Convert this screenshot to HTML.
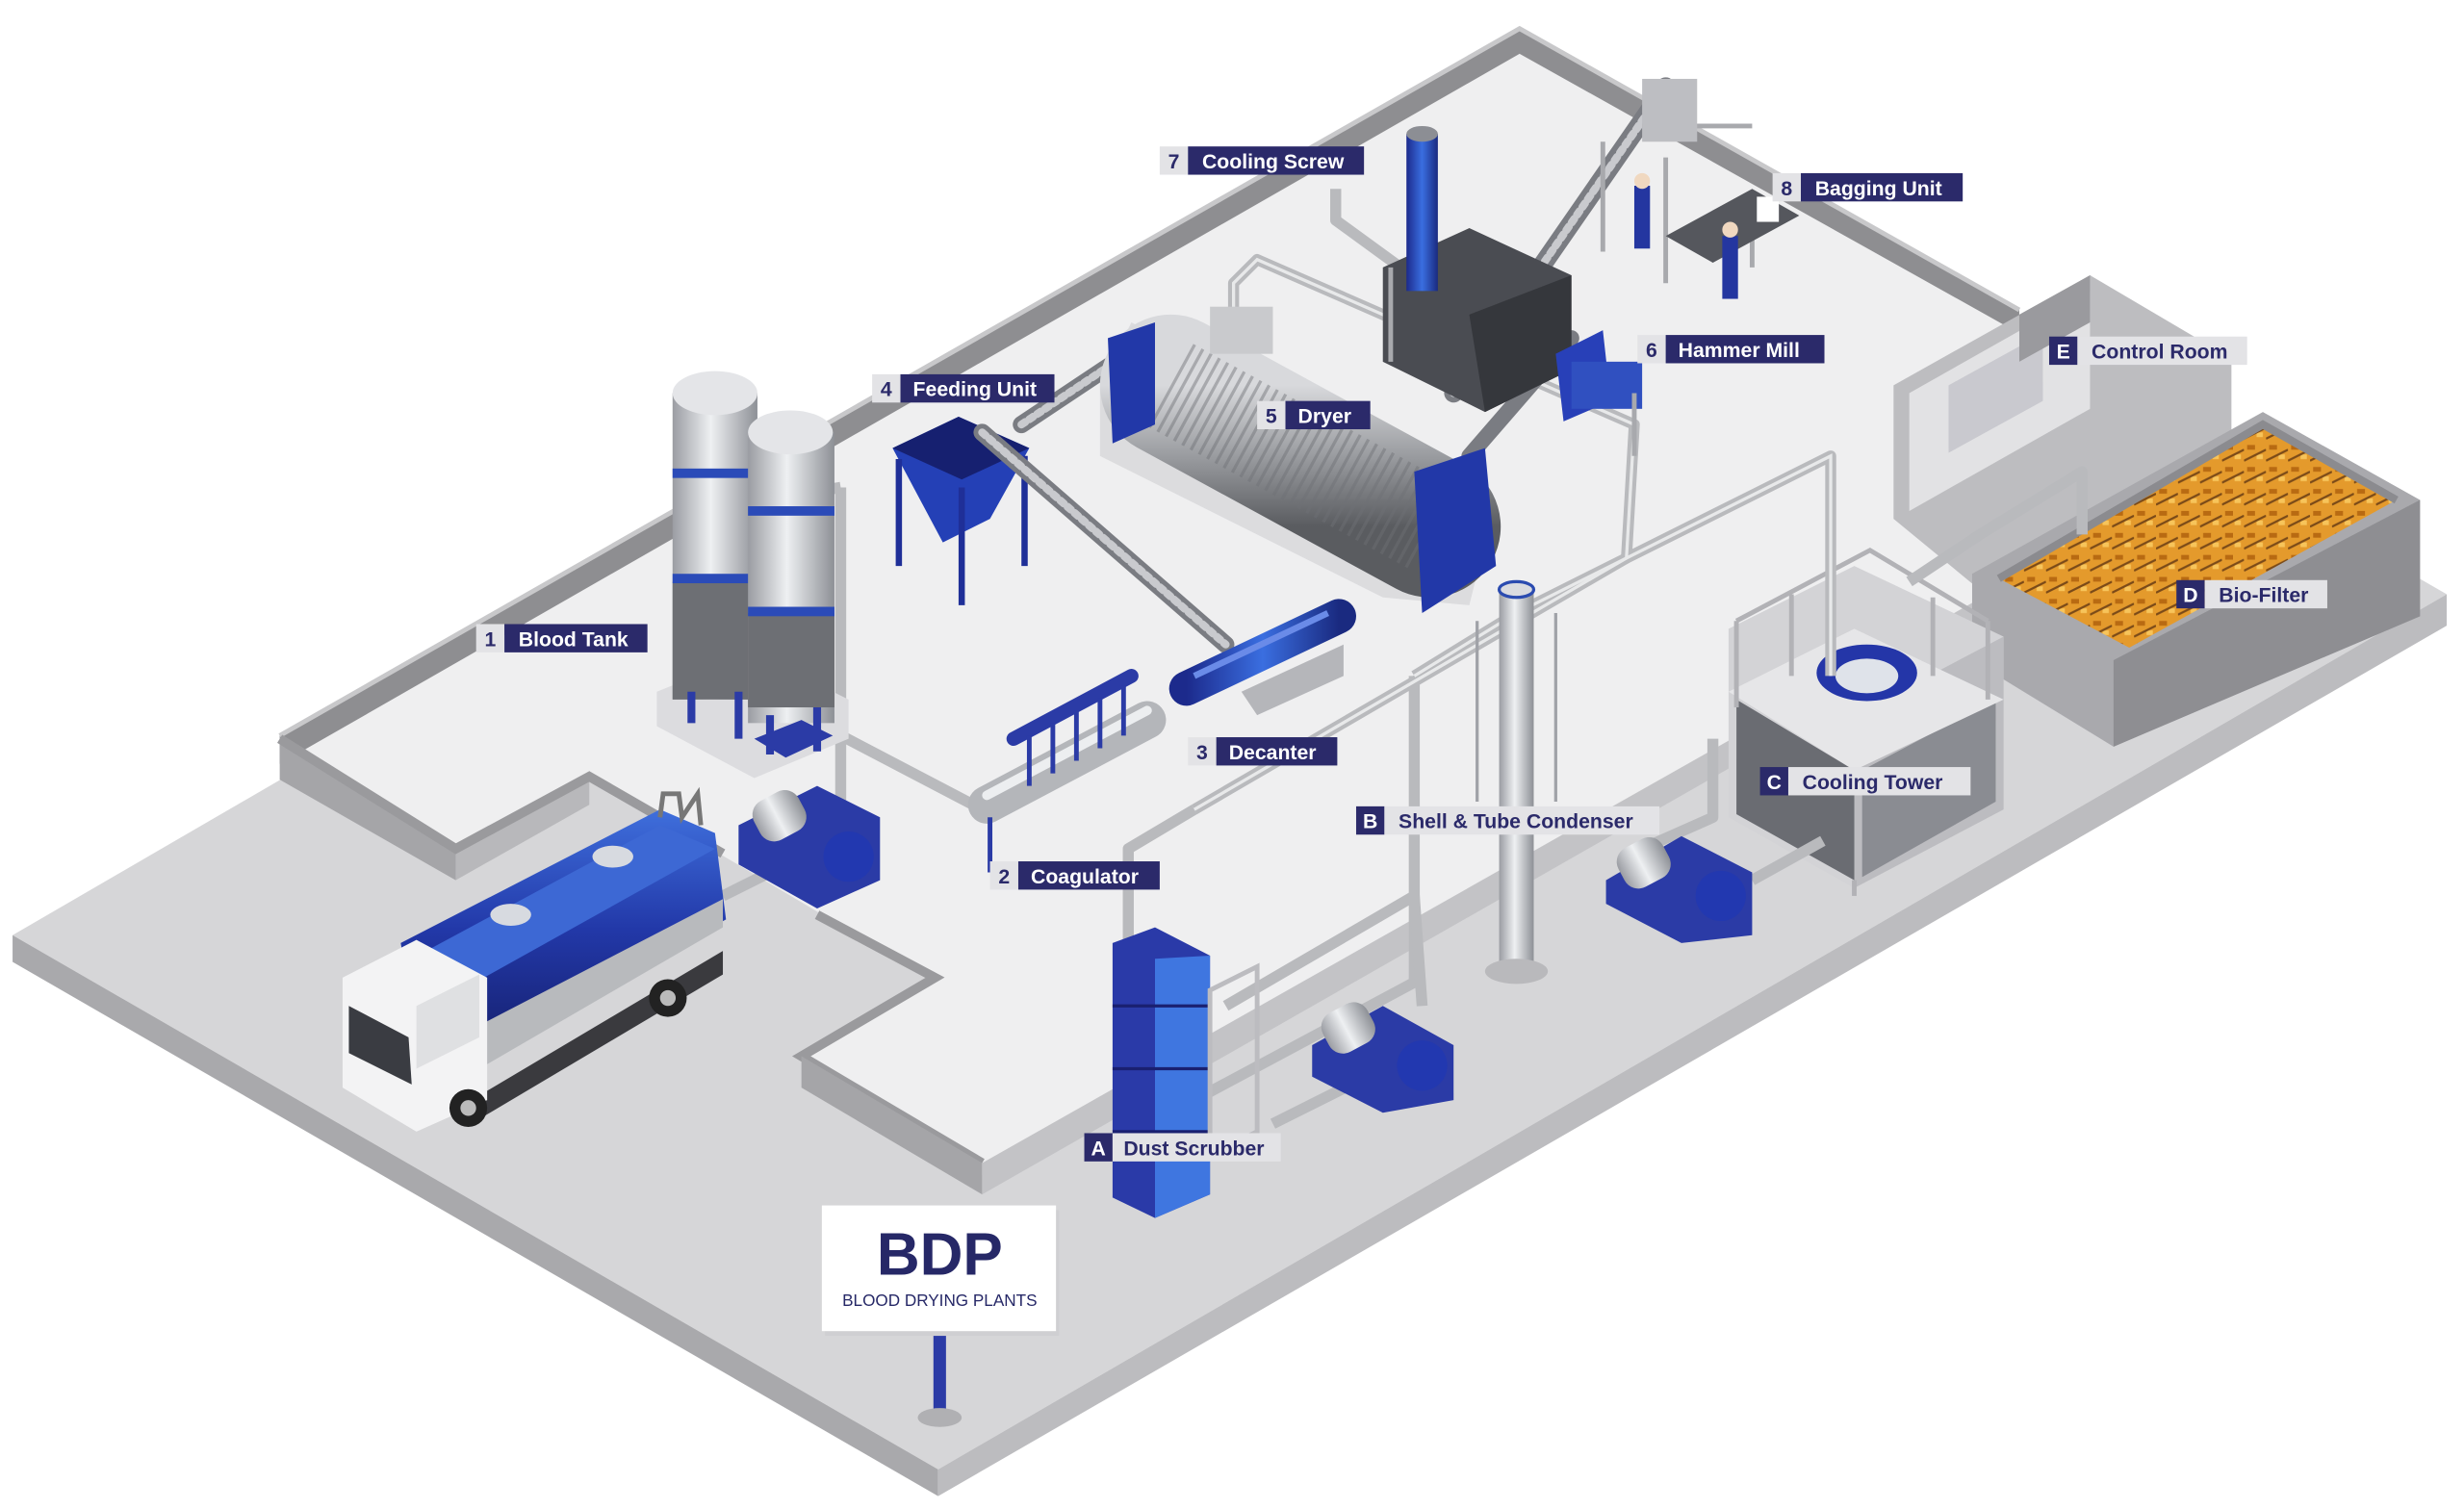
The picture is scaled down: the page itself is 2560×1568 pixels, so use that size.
<!DOCTYPE html>
<html><head><meta charset="utf-8">
<style>
html,body{margin:0;padding:0;background:#fff;}
svg{display:block;}
text{font-family:"Liberation Sans",sans-serif;font-weight:bold;}
</style></head>
<body>
<svg width="2560" height="1568" viewBox="0 0 1568 960" xmlns="http://www.w3.org/2000/svg">
<defs>
<linearGradient id="silver" x1="0" y1="0" x2="1" y2="0">
<stop offset="0" stop-color="#9a9ca2"/><stop offset=".45" stop-color="#eef0f2"/><stop offset="1" stop-color="#8d9096"/></linearGradient>
<linearGradient id="blue" x1="0" y1="0" x2="1" y2="0">
<stop offset="0" stop-color="#1c2a8c"/><stop offset=".5" stop-color="#3a6ee0"/><stop offset="1" stop-color="#1a2a80"/></linearGradient>
<linearGradient id="drum" x1="0" y1="0" x2="0" y2="1">
<stop offset="0" stop-color="#d8d9dc"/><stop offset=".5" stop-color="#9a9ca0"/><stop offset="1" stop-color="#5a5c60"/></linearGradient>
<linearGradient id="tank" x1="0" y1="0" x2="0" y2="1">
<stop offset="0" stop-color="#3f6fdc"/><stop offset=".5" stop-color="#2238a8"/><stop offset="1" stop-color="#16206e"/></linearGradient>
<pattern id="chips" width="14" height="14" patternUnits="userSpaceOnUse">
<rect width="14" height="14" fill="#e49a2c"/><rect x="2" y="3" width="5" height="3" fill="#b86a12"/><rect x="8" y="9" width="4" height="3" fill="#f7c45a"/><line x1="0" y1="13" x2="14" y2="6" stroke="#7a4a18" stroke-width="1.4"/></pattern>
</defs>

<!-- base slab -->
<polygon points="8,595 967,38 1557,378 597,935" fill="#d6d6d8"/>
<polygon points="8,595 597,935 597,952 8,612" fill="#a9a9ac"/>
<polygon points="597,935 1557,378 1557,398 597,952" fill="#bcbcbf"/>

<!-- white floor -->
<polygon points="178,472 967,22 1290,208 1270,380 625,748 510,672 595,622 520,580 375,494 290,540" fill="#efeff0"/>
<!-- walls -->
<polygon points="178,468 967,18 1285,197 1285,212 967,34 178,486" fill="#8e8e91"/>
<polyline points="178,468 967,18 1285,197" fill="none" stroke="#c8c8ca" stroke-width="3"/>
<polygon points="178,470 178,496 290,560 290,540" fill="#a5a5a8"/>
<polygon points="290,540 290,560 375,512 375,494" fill="#b8b8bb"/>
<polyline points="178,470 290,540 375,494 460,543" fill="none" stroke="#9a9a9d" stroke-width="6"/>
<polyline points="520,582 595,622 510,672 625,740" fill="none" stroke="#9a9a9d" stroke-width="6"/>
<polygon points="510,672 510,692 625,760 625,740" fill="#a5a5a8"/>
<polygon points="625,740 625,760 1270,392 1270,375" fill="#c3c3c6"/>

<!-- control room -->
<polygon points="1205,245 1330,175 1420,228 1420,330 1290,400 1205,330" fill="#bdbdc0"/>
<polygon points="1215,250 1330,185 1330,260 1215,325" fill="#e2e2e4"/>
<polygon points="1240,245 1300,212 1300,255 1240,288" fill="#c9c9cf"/>
<polygon points="1285,200 1330,175 1330,205 1285,230" fill="#9a9a9e"/>

<!-- bio-filter -->
<polygon points="1255,365 1440,262 1540,318 1540,392 1345,475 1255,420" fill="#a9a9ad"/>
<polygon points="1345,420 1540,318 1540,392 1345,475" fill="#8e8e92"/>
<polygon points="1272,368 1440,270 1525,318 1355,412" fill="url(#chips)"/>
<polyline points="1272,368 1440,270 1525,318" fill="none" stroke="#8b8b8f" stroke-width="5"/>

<!-- cooling tower -->
<polygon points="1100,400 1180,360 1275,405 1275,515 1180,565 1100,520" fill="#d3d3d6"/>
<polygon points="1180,455 1275,405 1275,515 1180,565" fill="#bcbcc0"/>
<polygon points="1105,445 1180,490 1180,560 1105,518" fill="#6a6c72"/>
<polygon points="1185,490 1270,445 1270,510 1185,558" fill="#8a8c92"/>
<polygon points="1100,440 1180,400 1275,445 1180,490" fill="#e6e6e8"/>
<ellipse cx="1188" cy="428" rx="32" ry="18" fill="#2436a8"/>
<ellipse cx="1188" cy="430" rx="20" ry="11" fill="#dfe3ea"/>
<g stroke="#b2b2b6" stroke-width="3" fill="none">
<polyline points="1105,395 1105,450"/><polyline points="1140,378 1140,430"/><polyline points="1230,380 1230,430"/><polyline points="1265,395 1265,445"/>
<polyline points="1105,395 1190,350 1265,395"/><line x1="1180" y1="560" x2="1180" y2="570"/></g>

<!-- pipes -->
<g fill="none" stroke="#b9babd" stroke-width="7" stroke-linejoin="round">
<polyline points="520,460 625,515"/>
<polyline points="535,310 535,550"/>
<polyline points="475,320 535,310"/>
<polyline points="718,740 718,540 760,515"/>
<polyline points="760,515 1035,355 1040,270 800,165 785,180 785,230"/>
<polyline points="905,180 850,140 850,120"/>
<polyline points="900,430 965,390 1165,290 1165,430"/>
<polyline points="900,430 900,625 760,700"/>
<polyline points="780,640 900,570 905,640"/>
<polyline points="810,715 880,680"/>
<polyline points="1045,540 1090,520 1090,470"/>
<polyline points="1115,560 1160,535"/>
<polyline points="1215,370 1260,340 1325,300 1325,340"/>
<polyline points="460,570 530,535"/>
</g>
<g fill="none" stroke="#e8e9ea" stroke-width="2">
<polyline points="760,515 1035,355 1040,270 800,165 785,180 785,230"/>
<polyline points="900,430 965,390 1165,290 1165,430"/>
</g>

<!-- condenser column -->
<rect x="954" y="375" width="22" height="245" fill="url(#silver)"/>
<ellipse cx="965" cy="375" rx="11" ry="5" fill="#dadbe0" stroke="#2b4bb0" stroke-width="2"/>
<ellipse cx="965" cy="618" rx="20" ry="8" fill="#b9b9bc"/>
<g stroke="#a0a2a8" stroke-width="2"><line x1="940" y1="395" x2="940" y2="510"/><line x1="990" y1="390" x2="990" y2="510"/></g>

<!-- dust scrubber -->
<polygon points="708,600 735,590 770,608 770,760 735,775 708,762" fill="#2a3aa8"/>
<polygon points="735,610 770,608 770,760 735,775" fill="#3f76e0"/>
<g stroke="#1a2070" stroke-width="2"><line x1="708" y1="640" x2="770" y2="640"/><line x1="708" y1="680" x2="770" y2="680"/><line x1="708" y1="720" x2="770" y2="720"/></g>
<polygon points="770,630 800,615 800,720 770,735" fill="none" stroke="#bcbcc0" stroke-width="3"/>

<!-- pumps -->
<g>
<polygon points="470,525 520,500 560,520 560,560 520,578 470,550" fill="#2b3ba6"/>
<rect x="480" y="505" width="32" height="28" rx="10" fill="url(#silver)" transform="rotate(-28 496 519)"/>
<circle cx="540" cy="545" r="16" fill="#2238b0"/>
<polygon points="1022,560 1070,532 1115,555 1115,595 1070,600 1022,575" fill="#2b3ba6"/>
<rect x="1030" y="535" width="32" height="28" rx="10" fill="url(#silver)" transform="rotate(-28 1046 549)"/>
<circle cx="1095" cy="570" r="16" fill="#2238b0"/>
<polygon points="835,665 880,640 925,665 925,700 880,708 835,685" fill="#2b3ba6"/>
<rect x="842" y="640" width="32" height="28" rx="10" fill="url(#silver)" transform="rotate(-28 858 654)"/>
<circle cx="905" cy="678" r="16" fill="#2238b0"/>
</g>

<!-- blood tanks -->
<g>
<polygon points="418,440 480,415 540,445 540,470 480,495 418,462" fill="#dcdcdf"/>
<rect x="428" y="250" width="54" height="195" fill="url(#silver)"/>
<ellipse cx="455" cy="250" rx="27" ry="14" fill="#e4e5e8"/>
<rect x="428" y="370" width="54" height="75" fill="#6d6f74"/>
<rect x="428" y="298" width="54" height="6" fill="#2b4bb8"/><rect x="428" y="365" width="54" height="6" fill="#2b4bb8"/>
<rect x="476" y="275" width="55" height="185" fill="url(#silver)"/>
<ellipse cx="503" cy="275" rx="27" ry="14" fill="#e4e5e8"/>
<rect x="476" y="390" width="55" height="60" fill="#6d6f74"/>
<rect x="476" y="322" width="55" height="6" fill="#2b4bb8"/><rect x="476" y="386" width="55" height="6" fill="#2b4bb8"/>
<g stroke="#2b3ba6" stroke-width="5"><line x1="440" y1="440" x2="440" y2="460"/><line x1="470" y1="440" x2="470" y2="470"/><line x1="490" y1="455" x2="490" y2="480"/><line x1="520" y1="450" x2="520" y2="478"/></g>
<polygon points="480,470 510,458 530,468 500,482" fill="#2b3ba6"/>
</g>

<!-- hopper / feeding unit -->
<polygon points="568,285 610,265 655,285 630,330 600,345" fill="#2440b6"/>
<polygon points="568,285 610,265 655,285 612,305" fill="#162070"/>
<g stroke="#1f2f98" stroke-width="4"><line x1="572" y1="292" x2="572" y2="360"/><line x1="612" y1="310" x2="612" y2="385"/><line x1="652" y1="290" x2="652" y2="360"/></g>
<!-- conveyors -->
<g stroke-linecap="round">
<line x1="625" y1="275" x2="780" y2="410" stroke="#7a7c82" stroke-width="11"/>
<line x1="625" y1="275" x2="780" y2="410" stroke="#c9cace" stroke-width="5" stroke-dasharray="3 3"/>
<line x1="650" y1="270" x2="740" y2="210" stroke="#7a7c82" stroke-width="11"/>
<line x1="650" y1="270" x2="740" y2="210" stroke="#c9cace" stroke-width="5" stroke-dasharray="3 3"/>
<line x1="925" y1="250" x2="1060" y2="55" stroke="#7a7c82" stroke-width="12"/>
<line x1="925" y1="250" x2="1060" y2="55" stroke="#c9cace" stroke-width="5" stroke-dasharray="3 3"/>
<line x1="935" y1="290" x2="1000" y2="215" stroke="#7a7c82" stroke-width="10"/>
</g>

<!-- dryer -->
<g>
<polygon points="700,245 720,205 950,325 935,385 880,380 700,290" fill="#dcdcde"/>
<line x1="745" y1="245" x2="910" y2="335" stroke="url(#drum)" stroke-width="90" stroke-linecap="round"/>
<line x1="745" y1="245" x2="910" y2="335" stroke="#6f7176" stroke-width="60" stroke-dasharray="2 4" opacity=".45"/>
<polygon points="900,300 945,285 952,360 905,390" fill="#2238a8"/>
<polygon points="705,215 735,205 735,270 708,282" fill="#2238a8"/>
<rect x="770" y="195" width="40" height="30" fill="#c9cacd"/>
</g>

<!-- hammer mill & cooling screw -->
<g>
<polygon points="880,170 935,145 1000,175 1000,235 945,262 880,230" fill="#4a4c52"/>
<polygon points="935,200 1000,175 1000,235 945,262" fill="#35373c"/>
<polygon points="990,225 1020,210 1025,255 995,268" fill="#2840b8"/>
<rect x="1000" y="230" width="45" height="30" fill="#3050c0"/>
<rect x="895" y="85" width="20" height="100" fill="url(#blue)"/>
<ellipse cx="905" cy="85" rx="10" ry="5" fill="#8c8e94"/>
<g stroke="#a8a9ad" stroke-width="3"><line x1="885" y1="170" x2="885" y2="230"/><line x1="1040" y1="250" x2="1040" y2="290"/><line x1="1020" y1="90" x2="1020" y2="160"/><line x1="1060" y1="100" x2="1060" y2="180"/><line x1="1115" y1="130" x2="1115" y2="170"/><line x1="1045" y1="80" x2="1115" y2="80"/></g>
<rect x="1045" y="50" width="35" height="40" fill="#bdbec2"/>
</g>
<!-- bagging -->
<g>
<polygon points="1060,150 1115,120 1145,137 1090,167" fill="#55575d"/>
<rect x="1040" y="118" width="10" height="40" fill="#2436a0"/>
<circle cx="1045" cy="115" r="5" fill="#f0d8c0"/>
<rect x="1096" y="150" width="10" height="40" fill="#2436a0"/>
<circle cx="1101" cy="146" r="5" fill="#f0d8c0"/>
<rect x="1118" y="125" width="14" height="16" fill="#fff"/>
</g>

<!-- decanter -->
<line x1="755" y1="438" x2="852" y2="392" stroke="url(#blue)" stroke-width="22" stroke-linecap="round"/>
<line x1="760" y1="430" x2="845" y2="390" stroke="#6a8be8" stroke-width="4"/>
<polygon points="790,440 855,410 855,430 800,455" fill="#b5b6ba"/>

<!-- coagulator -->
<line x1="628" y1="512" x2="730" y2="458" stroke="#b4b6ba" stroke-width="24" stroke-linecap="round"/>
<line x1="628" y1="506" x2="730" y2="452" stroke="#eceef0" stroke-width="6" stroke-linecap="round"/>
<line x1="645" y1="470" x2="720" y2="430" stroke="#2b3ba6" stroke-width="9" stroke-linecap="round"/>
<g stroke="#2b3ba6" stroke-width="3"><line x1="655" y1="468" x2="655" y2="500"/><line x1="670" y1="460" x2="670" y2="492"/><line x1="685" y1="452" x2="685" y2="484"/><line x1="700" y1="444" x2="700" y2="476"/><line x1="715" y1="436" x2="715" y2="468"/><line x1="630" y1="520" x2="630" y2="555"/></g>

<!-- truck -->
<g>
<polygon points="300,700 460,605 460,620 300,715" fill="#3a3a3e"/>
<polygon points="255,600 420,515 455,530 462,585 310,668 262,640" fill="url(#tank)"/>
<polygon points="262,610 420,525 455,540 308,622" fill="#3d68d4"/>
<polygon points="300,655 460,572 460,590 305,680" fill="#b8babd"/>
<ellipse cx="325" cy="582" rx="13" ry="7" fill="#d7dae0"/><ellipse cx="390" cy="545" rx="13" ry="7" fill="#d7dae0"/>
<polygon points="218,622 265,598 310,622 310,700 265,720 218,692" fill="#f3f3f4"/>
<polygon points="222,640 260,660 262,690 222,670" fill="#3a3c42"/>
<polygon points="265,640 305,620 305,660 265,680" fill="#dfe0e2"/>
<circle cx="298" cy="705" r="12" fill="#222"/><circle cx="298" cy="705" r="5" fill="#bbb"/>
<circle cx="425" cy="635" r="12" fill="#222"/><circle cx="425" cy="635" r="5" fill="#bbb"/>
<polyline points="420,520 422,505 432,505 434,520 444,505 446,525" fill="none" stroke="#777" stroke-width="3"/>
</g>

<!-- sign -->
<rect x="594" y="848" width="8" height="52" fill="#2b3ba6"/>
<ellipse cx="598" cy="902" rx="14" ry="6" fill="#b0b0b3"/>
<rect x="525" y="770" width="149" height="80" fill="#cfcfd2"/>
<rect x="523" y="767" width="149" height="80" fill="#ffffff"/>
<text x="598" y="811" text-anchor="middle" font-size="38" fill="#262867">BDP</text>
<text x="598" y="831" text-anchor="middle" font-size="10.5" fill="#262867" style="font-weight:normal">BLOOD DRYING PLANTS</text>

<!-- labels -->
<g font-size="13">
<rect x="303" y="397" width="18" height="18" fill="#e3e3e6"/><rect x="321" y="397" width="91" height="18" fill="#2b2a6a"/>
<text x="312" y="411" text-anchor="middle" fill="#2b2a6a">1</text><text x="330" y="411" fill="#fff">Blood Tank</text>

<rect x="630" y="548" width="18" height="18" fill="#e3e3e6"/><rect x="648" y="548" width="90" height="18" fill="#2b2a6a"/>
<text x="639" y="562" text-anchor="middle" fill="#2b2a6a">2</text><text x="656" y="562" fill="#fff">Coagulator</text>

<rect x="756" y="469" width="18" height="18" fill="#e3e3e6"/><rect x="774" y="469" width="77" height="18" fill="#2b2a6a"/>
<text x="765" y="483" text-anchor="middle" fill="#2b2a6a">3</text><text x="782" y="483" fill="#fff">Decanter</text>

<rect x="555" y="238" width="18" height="18" fill="#e3e3e6"/><rect x="573" y="238" width="98" height="18" fill="#2b2a6a"/>
<text x="564" y="252" text-anchor="middle" fill="#2b2a6a">4</text><text x="581" y="252" fill="#fff">Feeding Unit</text>

<rect x="800" y="255" width="18" height="18" fill="#e3e3e6"/><rect x="818" y="255" width="54" height="18" fill="#2b2a6a"/>
<text x="809" y="269" text-anchor="middle" fill="#2b2a6a">5</text><text x="826" y="269" fill="#fff">Dryer</text>

<rect x="1042" y="213" width="18" height="18" fill="#e3e3e6"/><rect x="1060" y="213" width="101" height="18" fill="#2b2a6a"/>
<text x="1051" y="227" text-anchor="middle" fill="#2b2a6a">6</text><text x="1068" y="227" fill="#fff">Hammer Mill</text>

<rect x="738" y="93" width="18" height="18" fill="#e3e3e6"/><rect x="756" y="93" width="112" height="18" fill="#2b2a6a"/>
<text x="747" y="107" text-anchor="middle" fill="#2b2a6a">7</text><text x="765" y="107" fill="#fff">Cooling Screw</text>

<rect x="1128" y="110" width="18" height="18" fill="#e3e3e6"/><rect x="1146" y="110" width="103" height="18" fill="#2b2a6a"/>
<text x="1137" y="124" text-anchor="middle" fill="#2b2a6a">8</text><text x="1155" y="124" fill="#fff">Bagging Unit</text>

<rect x="690" y="721" width="18" height="18" fill="#2b2a6a"/><rect x="708" y="721" width="107" height="18" fill="#e3e3e6"/>
<text x="699" y="735" text-anchor="middle" fill="#fff">A</text><text x="715" y="735" fill="#2b2a6a">Dust Scrubber</text>

<rect x="863" y="513" width="18" height="18" fill="#2b2a6a"/><rect x="881" y="513" width="175" height="18" fill="#e3e3e6"/>
<text x="872" y="527" text-anchor="middle" fill="#fff">B</text><text x="890" y="527" fill="#2b2a6a">Shell &amp; Tube Condenser</text>

<rect x="1120" y="488" width="18" height="18" fill="#2b2a6a"/><rect x="1138" y="488" width="116" height="18" fill="#e3e3e6"/>
<text x="1129" y="502" text-anchor="middle" fill="#fff">C</text><text x="1147" y="502" fill="#2b2a6a">Cooling Tower</text>

<rect x="1385" y="369" width="18" height="18" fill="#2b2a6a"/><rect x="1403" y="369" width="78" height="18" fill="#e3e3e6"/>
<text x="1394" y="383" text-anchor="middle" fill="#fff">D</text><text x="1412" y="383" fill="#2b2a6a">Bio-Filter</text>

<rect x="1304" y="214" width="18" height="18" fill="#2b2a6a"/><rect x="1322" y="214" width="108" height="18" fill="#e3e3e6"/>
<text x="1313" y="228" text-anchor="middle" fill="#fff">E</text><text x="1331" y="228" fill="#2b2a6a">Control Room</text>
</g>
</svg>
</body></html>
